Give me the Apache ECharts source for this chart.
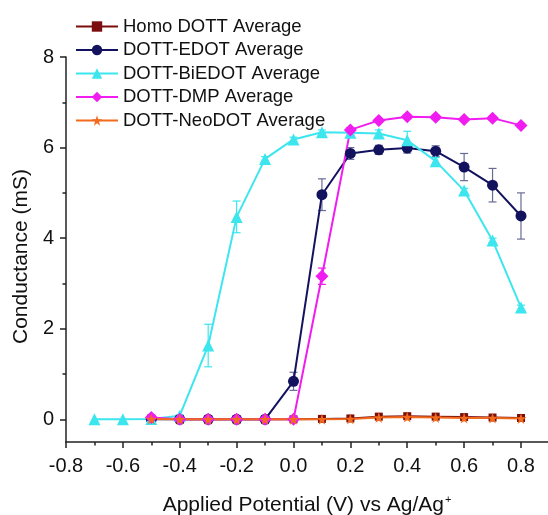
<!DOCTYPE html>
<html>
<head>
<meta charset="utf-8">
<script src="https://cdn.jsdelivr.net/npm/echarts@6/dist/echarts.min.js"></script>
<style>
  html, body { margin: 0; padding: 0; background: #fff; }
  #main { width: 548px; height: 515px; }
</style>
</head>
<body>
<div id="main"></div>
<script>
// potentials (V)
var potLong = [-0.7, -0.6, -0.5, -0.4, -0.3, -0.2, -0.1, 0.0, 0.1, 0.2, 0.3, 0.4, 0.5, 0.6, 0.7, 0.8];
var potShort = [-0.5, -0.4, -0.3, -0.2, -0.1, 0.0, 0.1, 0.2, 0.3, 0.4, 0.5, 0.6, 0.7, 0.8];

// conductance averages (mS)
var homoDott = [0.02, 0, 0, 0, 0, 0, 0.01, 0.02, 0.06, 0.07, 0.06, 0.05, 0.04, 0.03];
var dottEdot = [0, 0, 0, 0, 0, 0.84, 4.96, 5.87, 5.95, 5.99, 5.92, 5.57, 5.17, 4.49];
var dottBiedot = [0, 0, 0.01, 0.08, 1.63, 4.47, 5.75, 6.18, 6.34, 6.33, 6.31, 6.16, 5.70, 5.05, 3.95, 2.47];
var dottDmp = [0.04, 0, 0, 0, 0, 0, 3.16, 6.39, 6.60, 6.68, 6.67, 6.62, 6.65, 6.49];
var dottNeodot = [0.01, 0, 0, 0, 0, 0, 0, 0.01, 0.04, 0.05, 0.04, 0.03, 0.03, 0.02];

// error bars (+/-)
var edotErr = [0, 0, 0, 0, 0.02, 0.2, 0.35, 0.13, 0.1, 0.11, 0.12, 0.3, 0.37, 0.51];
var biedotErr = [0, 0, 0, 0.02, 0.47, 0.35, 0.05, 0.05, 0.05, 0.05, 0.08, 0.2, 0.08, 0.05, 0.05, 0.05];
var dmpErr = [0, 0, 0, 0, 0, 0, 0.18, 0.05, 0.04, 0.04, 0.04, 0.04, 0.04, 0.04];

var xMajor = [-0.8, -0.6, -0.4, -0.2, 0.0, 0.2, 0.4, 0.6, 0.8];
var xMinor = [-0.7, -0.5, -0.3, -0.1, 0.1, 0.3, 0.5, 0.7];
var yMajor = [0, 2, 4, 6, 8];
var yMinor = [1, 3, 5, 7];

var names = ['Homo DOTT Average', 'DOTT-EDOT Average', 'DOTT-BiEDOT Average', 'DOTT-DMP Average', 'DOTT-NeoDOT Average'];
var starPath = 'path://M50,0 L61,35 L98,35 L68,57 L79,91 L50,70 L21,91 L32,57 L2,35 L39,35 Z';

function pairs(xs, ys) {
    return xs.map(function (x, i) { return [x, ys[i]]; });
}

function errData(xs, ys, es) {
    var out = [];
    xs.forEach(function (x, i) {
        if (es[i] > 0) out.push([x, ys[i] - es[i], ys[i] + es[i]]);
    });
    return out;
}

function errSeries(data, color) {
    return {
        type: 'custom',
        xAxisIndex: 0,
        yAxisIndex: 0,
        z: 1,
        silent: true,
        data: data,
        renderItem: function (params, api) {
            var lo = api.coord([api.value(0), api.value(1)]);
            var hi = api.coord([api.value(0), api.value(2)]);
            var w = 4;
            var st = { stroke: color, lineWidth: 1.2 };
            return {
                type: 'group',
                children: [
                    { type: 'line', shape: { x1: lo[0], y1: lo[1], x2: hi[0], y2: hi[1] }, style: st },
                    { type: 'line', shape: { x1: lo[0] - w, y1: lo[1], x2: lo[0] + w, y2: lo[1] }, style: st },
                    { type: 'line', shape: { x1: hi[0] - w, y1: hi[1], x2: hi[0] + w, y2: hi[1] }, style: st }
                ]
            };
        }
    };
}

function lineSeries(name, data, color, symbol, size) {
    return {
        name: name,
        type: 'line',
        xAxisIndex: 0,
        yAxisIndex: 0,
        z: 3,
        data: data,
        symbol: symbol,
        symbolSize: size,
        showAllSymbol: true,
        lineStyle: { color: color, width: 2 },
        itemStyle: { color: color, opacity: 1 }
    };
}

var axisCol = '#222';
var font = 'Arial, "Liberation Sans", sans-serif';

var myChart = echarts.init(document.getElementById('main'));
myChart.setOption({
    animation: false,
    grid: { left: 66, right: 0, top: 57, bottom: 73, outerBoundsMode: 'none' },
    legend: {
        data: names,
        orient: 'vertical',
        left: 70,
        top: 12,
        itemWidth: 42,
        itemHeight: 13,
        itemGap: 4.5,
        textStyle: { color: '#111', fontSize: 18.5, fontFamily: font }
    },
    xAxis: [
        {
            type: 'value',
            min: -0.8,
            max: 0.895,
            position: 'bottom',
            name: 'Applied Potential (V) vs Ag/Ag{sup|+}',
            nameLocation: 'middle',
            nameGap: 52,
            nameTextStyle: {
                color: '#111', fontSize: 21, fontFamily: font,
                rich: { sup: { fontSize: 11, verticalAlign: 'top', padding: [0, 0, 12, 1], color: '#111' } }
            },
            axisLine: { show: true, onZero: false, lineStyle: { color: axisCol, width: 1.5 } },
            axisTick: { show: true, inside: false, length: 6, customValues: xMajor, lineStyle: { color: axisCol, width: 1.5 } },
            axisLabel: {
                customValues: xMajor, margin: 14, color: '#111', fontSize: 20, fontFamily: font,
                formatter: function (v) { return v.toFixed(1); }
            },
            splitLine: { show: false }
        },
        {
            type: 'value',
            min: -0.8,
            max: 0.895,
            position: 'bottom',
            axisLine: { show: false, onZero: false },
            axisTick: { show: true, inside: false, length: 3.5, customValues: xMinor, lineStyle: { color: axisCol, width: 1.5 } },
            axisLabel: { show: false },
            splitLine: { show: false }
        }
    ],
    yAxis: [
        {
            type: 'value',
            min: -0.5,
            max: 8,
            position: 'left',
            name: 'Conductance (mS)',
            nameLocation: 'middle',
            nameGap: 33,
            nameTextStyle: { color: '#111', fontSize: 21, fontFamily: font, padding: [0, 14, 0, 0] },
            axisLine: { show: true, onZero: false, lineStyle: { color: axisCol, width: 1.5 } },
            axisTick: { show: true, inside: false, length: 6, customValues: yMajor, lineStyle: { color: axisCol, width: 1.5 } },
            axisLabel: { customValues: yMajor, margin: 12, color: '#111', fontSize: 20, fontFamily: font },
            splitLine: { show: false }
        },
        {
            type: 'value',
            min: -0.5,
            max: 8,
            position: 'left',
            axisLine: { show: false, onZero: false },
            axisTick: { show: true, inside: false, length: 3.5, customValues: yMinor, lineStyle: { color: axisCol, width: 1.5 } },
            axisLabel: { show: false },
            splitLine: { show: false }
        }
    ],
    series: [
        errSeries(errData(potShort, dottEdot, edotErr), '#6a6a98'),
        errSeries(errData(potLong, dottBiedot, biedotErr), '#3de6ee'),
        errSeries(errData(potShort, dottDmp, dmpErr), '#f01cf0'),
        lineSeries(names[0], pairs(potShort, homoDott), '#7a0d0d', 'rect', 8),
        lineSeries(names[1], pairs(potShort, dottEdot), '#12125e', 'circle', 11),
        lineSeries(names[2], pairs(potLong, dottBiedot), '#3de6ee', 'triangle', 12),
        lineSeries(names[3], pairs(potShort, dottDmp), '#f01cf0', 'diamond', 13),
        lineSeries(names[4], pairs(potShort, dottNeodot), '#f26b1d', starPath, 11)
    ]
}, true);
</script>
</body>
</html>
